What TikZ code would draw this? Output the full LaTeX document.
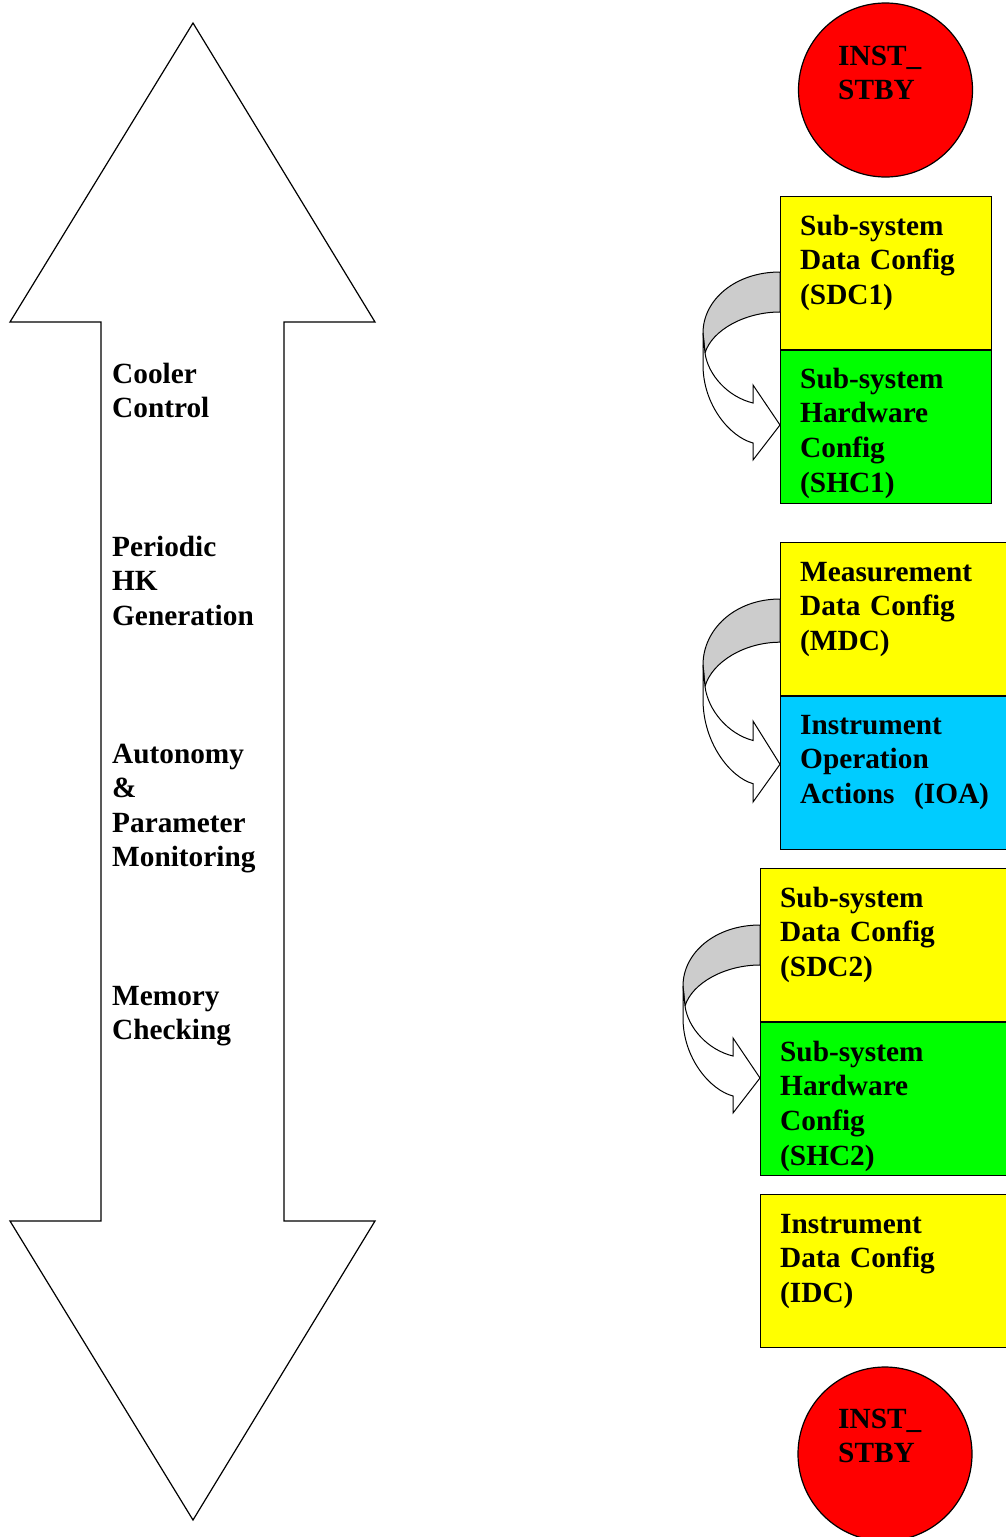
\documentclass[tikz,border=0pt]{standalone}
\usepackage{fontspec}
\setmainfont{Liberation Serif}

\definecolor{cfgyellow}{RGB}{255,255,0}
\definecolor{cfggreen}{RGB}{0,255,0}
\definecolor{cfgcyan}{RGB}{0,204,255}
\definecolor{stbyred}{RGB}{255,0,0}
\definecolor{bandgray}{RGB}{204,204,204}

\tikzset{
	cfg box/.style={
		draw,
		line width=1.2pt,
		anchor=north west,
		inner sep=0pt,
		minimum height=153pt
	},
	stby circle/.style={
		draw,
		circle,
		line width=1.2pt,
		fill=stbyred,
		inner sep=0pt,
		minimum size=174pt
	},
	box label/.style={
		anchor=base west,
		inner sep=0pt,
		text width=230pt,
		align=left,
		font=\fontsize{29.3}{34.6}\selectfont\bfseries
	},
	turn arrow/.pic={
		\draw[line width=1pt,fill=bandgray] (0,0) .. controls (-45,0) and (-77,28) .. (-77,61)
			-- (-75,81) .. controls (-68,58) and (-35,40) .. (0,40) -- cycle;
		\draw[line width=1pt,fill=white] (-77,61) -- (-77,93) .. controls (-77,133) and (-50,165) .. (-27,171)
			-- (-27,188) -- (0,153) -- (-27,113) -- (-27,131)
			.. controls (-52,125) and (-72,103) .. (-75,81) -- cycle;
	}
}

\begin{document}
\begin{tikzpicture}[x=1pt,y=-1pt]

\useasboundingbox (0,0) rectangle (1006,1537);

% big double arrow
\draw[line width=1.2pt] (193,23) -- (375,322) -- (284,322) -- (284,1221) -- (375,1221)
	-- (193,1520) -- (10,1221) -- (101,1221) -- (101,322) -- (10,322) -- cycle;

\node[box label] (cooler)   at (112,383)  {Cooler\\Control};
\node[box label] (periodic) at (112,556)  {Periodic\\HK\\Generation};
\node[box label] (autonomy) at (112,763)  {Autonomy\\\&\\Parameter\\Monitoring};
\node[box label] (memory)   at (112,1005) {Memory\\Checking};

% standby states
\node[stby circle] (stby top) at (885.5,90) {};
\node[box label] (stby top lbl) at (838,65) {INST\_\\STBY};

\node[stby circle] (stby bot) at (885,1454) {};
\node[box label] (stby bot lbl) at (838,1428) {INST\_\\STBY};

% configuration steps
\node[cfg box, fill=cfgyellow, minimum width=211pt] (sdc1) at (780,196) {};
\node[cfg box, fill=cfggreen,  minimum width=211pt] (shc1) at (sdc1.south west) {};
\node[cfg box, fill=cfgyellow, minimum width=240pt] (mdc)  at (780,542) {};
\node[cfg box, fill=cfgcyan,   minimum width=240pt] (ioa)  at (mdc.south west) {};
\node[cfg box, fill=cfgyellow, minimum width=260pt] (sdc2) at (760,868) {};
\node[cfg box, fill=cfggreen,  minimum width=260pt] (shc2) at (sdc2.south west) {};
\node[cfg box, fill=cfgyellow, minimum width=260pt] (idc)  at (760,1194) {};

\node[box label] (sdc1 lbl) at ([shift={(20,39)}]sdc1.north west) {Sub-system\\Data Config\\(SDC1)};
\node[box label] (shc1 lbl) at ([shift={(20,38)}]shc1.north west) {Sub-system\\Hardware\\Config\\(SHC1)};
\node[box label] (mdc lbl)  at ([shift={(20,39)}]mdc.north west)  {Measurement\\Data Config\\(MDC)};
\node[box label] (ioa lbl)  at ([shift={(20,38)}]ioa.north west)  {Instrument\\Operation\\Actions\ \ (IOA)};
\node[box label] (sdc2 lbl) at ([shift={(20,39)}]sdc2.north west) {Sub-system\\Data Config\\(SDC2)};
\node[box label] (shc2 lbl) at ([shift={(20,39)}]shc2.north west) {Sub-system\\Hardware\\Config\\(SHC2)};
\node[box label] (idc lbl)  at ([shift={(20,39)}]idc.north west)  {Instrument\\Data Config\\(IDC)};

% turn-over arrows between the steps
\pic at (780,272) {turn arrow};
\pic[yscale=1.08] at (780,599) {turn arrow};
\pic at (760,925) {turn arrow};

\end{tikzpicture}
\end{document}
